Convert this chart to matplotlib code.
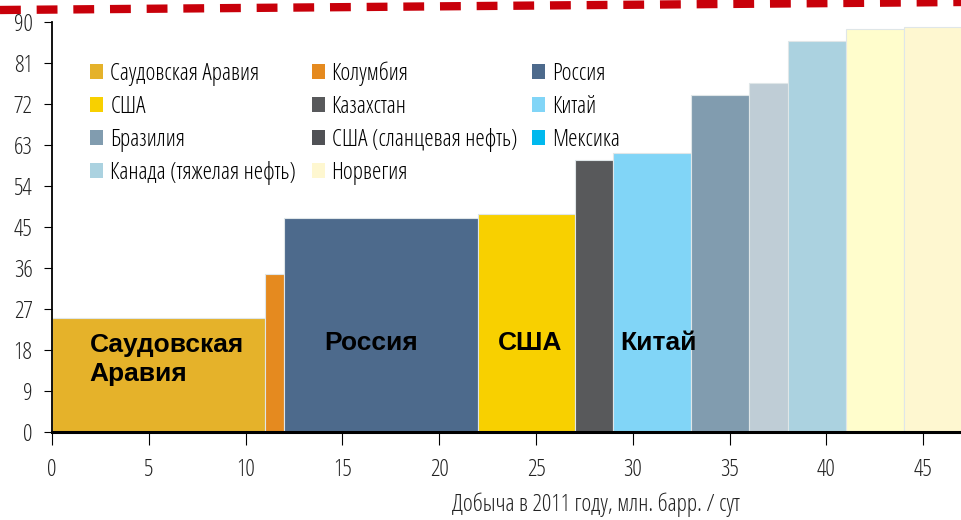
import matplotlib.pyplot as plt
from matplotlib.lines import Line2D
from matplotlib.patches import Patch
import numpy as np

plt.rcParams['font.family'] = ['Open Sans', 'DejaVu Sans']
plt.rcParams['font.stretch'] = 'condensed'
plt.rcParams['font.weight'] = 'medium'

# добыча (ширина столбца) и себестоимость (высота)
shirina = [11, 1, 10, 5, 2, 4, 3, 2, 3, 3, 3]
vysota = [25.0, 34.7, 47.0, 47.8, 59.7, 61.2, 74.0, 76.6, 85.8, 88.4, 89.0]
cores_barras = ['#E5B22A', '#E58A1F', '#4D6A8C', '#F8D000', '#58595B', '#81D5F7',
                '#819CAF', '#BFCDD6', '#ABD2E0', '#FFFDCC', '#FEF7D0']

legenda_nomes = ['Саудовская Аравия', 'США', 'Бразилия', 'Канада (тяжелая нефть)',
                 'Колумбия', 'Казахстан', 'США (сланцевая нефть)', 'Норвегия',
                 'Россия', 'Китай', 'Мексика']
legenda_cores = ['#E5B22A', '#F8D000', '#819CAF', '#ABD2E0',
                 '#E58A1F', '#58595B', '#505155', '#FEF7D0',
                 '#4D6A8C', '#81D5F7', '#00B9EE']

rotulos = ['Саудовская\nАравия', 'Россия', 'США', 'Китай']
rotulos_idx = [0, 2, 3, 5]

x_ticks = [0, 5, 10, 15, 20, 25, 30, 35, 40, 45]
y_ticks = [0, 9, 18, 27, 36, 45, 54, 63, 72, 81, 90]

fig = plt.figure(figsize=(9.62, 5.2), dpi=100)
ax = fig.add_axes([52 / 962, 1 - 432 / 520, 1 - 52 / 962, 410 / 520])

inicio = np.concatenate([[0], np.cumsum(shirina)[:-1]])
ax.bar(inicio, vysota, width=shirina, align='edge', color=cores_barras,
       edgecolor='#dfe6e8', linewidth=0.8)

negrito = dict(fontsize=19, fontweight='bold', family=['Liberation Sans', 'DejaVu Sans'],
               stretch='normal', color='black')
ax.text(inicio[0] + 1.95, 15.9, rotulos[0], ha='left', va='center', linespacing=1.25, **negrito)
desloc = [0, 0, -0.5, 0.2, 0, 0.3]
for texto, i in zip(rotulos[1:], rotulos_idx[1:]):
    ax.text(inicio[i] + shirina[i] / 2 + desloc[i], 19.5, texto,
            ha='center', va='center', **negrito)

ax.set_xlim(0, 47)
ax.set_ylim(0, 90)
ax.set_xticks(x_ticks)
ax.set_yticks(y_ticks)
ax.tick_params(axis='x', direction='out', length=9, pad=10, labelsize=17,
               labelcolor='#222222')
ax.tick_params(axis='y', direction='out', length=6, pad=8, labelsize=17,
               labelcolor='#222222')
ax.spines['top'].set_visible(False)
ax.spines['right'].set_visible(False)
ax.spines['left'].set_linewidth(1.3)
ax.spines['bottom'].set_linewidth(2.2)
fig.text(596 / 962, 1 - 505 / 520, 'Добыча в 2011 году, млн. барр. / сут',
         ha='center', va='center', fontsize=17, color='#222222')

handles = [Patch(facecolor=c, edgecolor='none') for c in legenda_cores]
ax.legend(handles, legenda_nomes, ncol=3, frameon=False, fontsize=17,
          loc='upper left', bbox_to_anchor=(69 / 962, 1 - 40 / 520),
          bbox_transform=fig.transFigure, handlelength=0.55, handleheight=0.6,
          handletextpad=0.3, columnspacing=0.65, labelspacing=0.38)

# линия сверху
fig.add_artist(Line2D([0, 1], [1 - 10 / 520, 1 - 2 / 520], transform=fig.transFigure,
                      color='#C8000A', linewidth=6, linestyle=(0, (2.5, 1.9))))

fig.savefig('out.png', dpi=100)
plt.close()
